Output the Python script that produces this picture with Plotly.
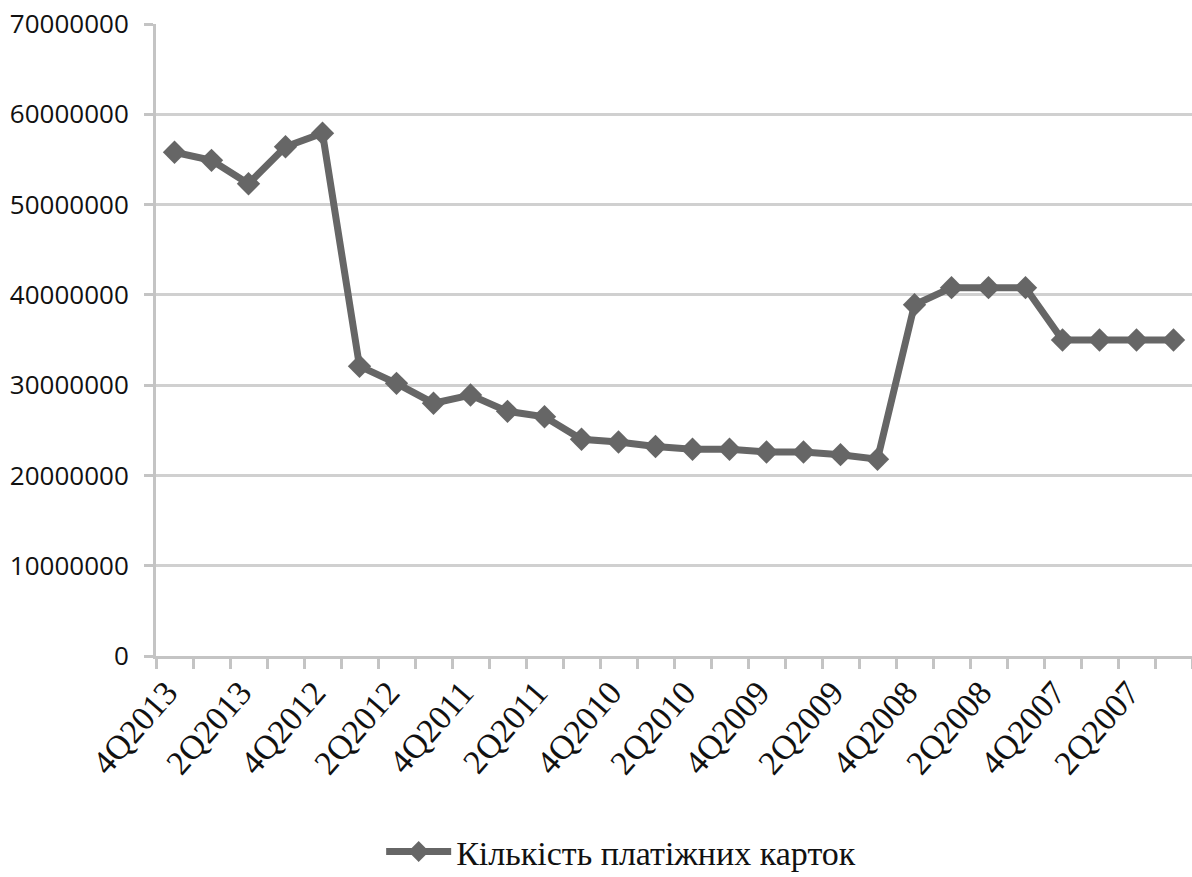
import plotly.graph_objects as go

quarters = []
for year in range(2013, 2006, -1):
    for q in (4, 3, 2, 1):
        quarters.append(f"{q}Q{year}")

cards = [55.8e6, 54.9e6, 52.3e6, 56.4e6, 57.9e6,
         32.1e6, 30.2e6, 28.0e6, 28.9e6, 27.1e6,
         26.5e6, 24.0e6, 23.7e6, 23.2e6, 22.9e6,
         22.9e6, 22.6e6, 22.6e6, 22.3e6, 21.8e6,
         38.9e6, 40.8e6, 40.8e6, 40.8e6, 35.0e6,
         35.0e6, 35.0e6, 35.0e6]

series_name = "Кількість платіжних карток"

tick_text = [q if i % 2 == 0 else "" for i, q in enumerate(quarters)]

fig = go.Figure()
fig.add_trace(go.Scatter(
    x=quarters, y=cards, name=series_name, mode="lines+markers",
    line=dict(color="#666666", width=7),
    marker=dict(symbol="diamond", size=18, color="#666666"),
    showlegend=True,
))

fig.update_layout(
    width=1192, height=877,
    margin=dict(l=156, r=0, t=24, b=221, autoexpand=False),
    paper_bgcolor="white", plot_bgcolor="white",
    showlegend=True,
    legend=dict(orientation="h", x=0.449, xanchor="center", y=-0.31, yanchor="middle",
                font=dict(family="Liberation Serif", size=34, color="#111111"),
                itemwidth=65),
    xaxis=dict(
        type="category", categoryorder="array", categoryarray=quarters,
        range=[-0.5, 27.5], automargin=False,
        tickmode="array", tickvals=quarters, ticktext=tick_text,
        tickson="boundaries", ticks="outside", ticklen=10, tickwidth=3, tickcolor="#c4c4c4",
        tickangle=-49, ticklabelshift=-8,
        tickfont=dict(family="Liberation Serif", size=34, color="#111111"),
        showline=True, linecolor="#c4c4c4", linewidth=3,
        showgrid=False, zeroline=False,
    ),
    yaxis=dict(
        range=[0, 70e6], tickmode="array",
        tickvals=[0, 10e6, 20e6, 30e6, 40e6, 50e6, 60e6, 70e6],
        tickformat="d", automargin=False,
        showgrid=True, gridcolor="#d0d0d0", gridwidth=3,
        showline=True, linecolor="#c4c4c4", linewidth=3,
        ticks="outside", ticklen=9, tickwidth=3, tickcolor="#c4c4c4",
        ticklabelstandoff=10,
        tickfont=dict(family="Open Sans", size=26, color="#111111"),
        zeroline=False,
    ),
)

# remove the browser's default 8px body margin so the figure fills the window exactly
fig.write_html("out.html", config={"displayModeBar": False},
               post_script="document.body.style.margin='0';")
